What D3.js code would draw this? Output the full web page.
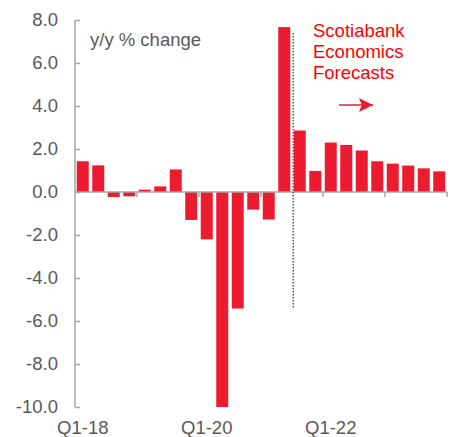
<!DOCTYPE html>
<html>
<head>
<meta charset="utf-8">
<script src="https://cdn.jsdelivr.net/npm/d3@7"></script>
<style>
  body { margin: 0; background: #fff; }
  text { font-family: "Liberation Sans", Arial, sans-serif; }
</style>
</head>
<body>
<div class="chart"></div>
<script>
// quarters Q1-18 .. Q4-23
var quarters = [];
["18", "19", "20", "21", "22", "23"].forEach(function(yr) {
  [1, 2, 3, 4].forEach(function(q) { quarters.push("Q" + q + "-" + yr); });
});

var values = [1.43, 1.24, -0.23, -0.2, 0.11, 0.26, 1.05,
              -1.3, -2.2, -10.0, -5.42, -0.82, -1.28,
              7.67, 2.86, 0.98, 2.3, 2.19, 1.93, 1.43, 1.32, 1.23, 1.1, 0.96];

var yTicks = [8, 6, 4, 2, 0, -2, -4, -6, -8, -10];
var xLabels = ["Q1-18", "Q1-20", "Q1-22"];
var forecastStart = "Q2-21";   // divider drawn just after this bar

var margin = {top: 20, right: 3, bottom: 30, left: 75},
    width = 450 - margin.left - margin.right,
    height = 437 - margin.top - margin.bottom;

var svg = d3.select(".chart").append("svg")
    .attr("width", width + margin.left + margin.right)
    .attr("height", height + margin.top + margin.bottom)
  .append("g")
    .attr("transform", "translate(" + margin.left + "," + margin.top + ")");

var x = d3.scaleBand()
    .domain(quarters)
    .range([0, 372])
    .paddingInner(0.226)
    .paddingOuter(0.113);

var y = d3.scaleLinear()
    .domain([-10, 8])
    .range([387, 0]);

var grey = "#a6a6a6";
var textGrey = "#595959";
var red = "#ed1b2f";
var fs = "18.5px";

// bars
svg.selectAll(".bar")
    .data(values)
    .enter().append("rect")
    .attr("class", "bar")
    .attr("x", function(d, i) { return x(quarters[i]); })
    .attr("width", x.bandwidth())
    .attr("y", function(d) { return y(Math.max(0, d)); })
    .attr("height", function(d) { return Math.abs(y(d) - y(0)); })
    .attr("fill", red);

// y axis
var yAxis = svg.append("g")
    .call(d3.axisLeft(y).tickValues(yTicks).tickSize(-5).tickPadding(17)
      .tickFormat(d3.format(".1f")));
yAxis.select(".domain").attr("stroke", grey).attr("stroke-width", 1.5)
    .attr("d", "M0," + y(8) + "V" + y(-10));
yAxis.selectAll(".tick line").attr("stroke", grey).attr("stroke-width", 1.5);
yAxis.selectAll(".tick text")
    .attr("fill", textGrey)
    .style("font-size", fs)
    .text(function(d) { return d3.format(".1f")(d).replace("−", "-"); });

// x axis at zero, with year ticks
var step = x.step();
var xAxis = svg.append("g")
    .attr("transform", "translate(0," + y(0) + ")");
xAxis.append("line")
    .attr("x1", 0).attr("x2", 372)
    .attr("stroke", grey).attr("stroke-width", 1.5);
xAxis.selectAll(".ytick")
    .data(d3.range(1, 7))
    .enter().append("line")
    .attr("x1", function(d) { return d * 4 * step; })
    .attr("x2", function(d) { return d * 4 * step; })
    .attr("y1", 0).attr("y2", 5)
    .attr("stroke", grey).attr("stroke-width", 1.5);

// category labels at bottom
svg.selectAll(".xlabel")
    .data(xLabels)
    .enter().append("text")
    .attr("x", function(d) { return x(d) + x.bandwidth() / 2; })
    .attr("y", 414)
    .attr("text-anchor", "middle")
    .attr("fill", textGrey)
    .style("font-size", fs)
    .text(function(d) { return d; });

// forecast divider
var divX = x(forecastStart) + x.bandwidth() + 3;
svg.append("line")
    .attr("x1", divX).attr("x2", divX)
    .attr("y1", y(7.4)).attr("y2", y(-5.4))
    .attr("stroke", "#595959")
    .attr("stroke-width", 1.5)
    .attr("stroke-dasharray", "1.5,1.5");

svg.append("text")
    .attr("x", 15).attr("y", 26)
    .attr("fill", textGrey)
    .style("font-size", fs)
    .text("y/y % change");

var note = svg.append("text")
    .attr("fill", "#ff0000")
    .style("font-size", fs);
["Scotiabank", "Economics", "Forecasts"].forEach(function(t, i) {
  note.append("tspan").attr("x", 238).attr("y", 17 + i * 21).text(t);
});

// arrow
var defs = svg.append("defs");
defs.append("marker")
    .attr("id", "arr")
    .attr("viewBox", "0 0 10 10")
    .attr("refX", 10).attr("refY", 5)
    .attr("markerUnits", "userSpaceOnUse")
    .attr("markerWidth", 15).attr("markerHeight", 14)
    .attr("orient", "auto")
  .append("path")
    .attr("d", "M0,0L10,5L0,10L2,5Z")
    .attr("fill", red);
svg.append("line")
    .attr("x1", 264).attr("x2", 298)
    .attr("y1", 85).attr("y2", 85)
    .attr("stroke", red).attr("stroke-width", 1.5)
    .attr("marker-end", "url(#arr)");
</script>
</body>
</html>
